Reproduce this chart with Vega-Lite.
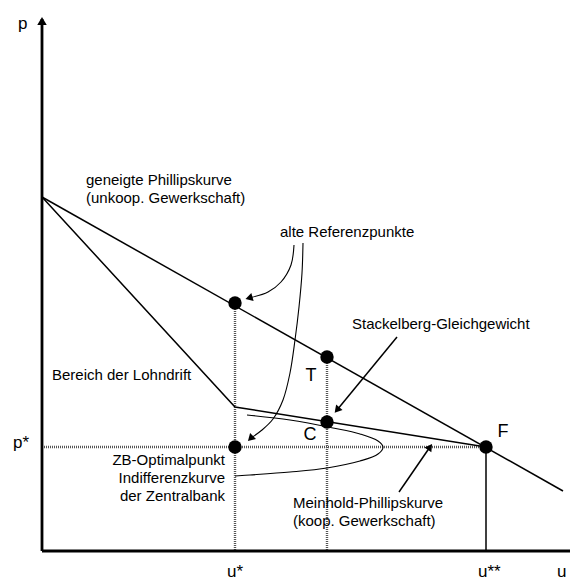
{
  "$schema": "https://vega.github.io/schema/vega-lite/v6.json",
  "width": 570,
  "height": 581,
  "padding": 0,
  "autosize": {"type": "none"},
  "background": "white",
  "config": {"view": {"stroke": null}, "text": {"font": "Liberation Sans"}},
  "datasets": {
    "solid": [
      {"id": "upper", "k": 1, "u": 0, "p": 35.4},
      {"id": "upper", "k": 2, "u": 52.1, "p": 6.0},
      {"id": "lower", "k": 1, "u": 0, "p": 35.4},
      {"id": "lower", "k": 2, "u": 19.3, "p": 14.4},
      {"id": "lower", "k": 3, "u": 44.4, "p": 10.4},
      {"id": "uss", "k": 1, "u": 44.4, "p": 10.4},
      {"id": "uss", "k": 2, "u": 44.4, "p": 0},
      {"id": "a3", "k": 1, "u": 35.5, "p": 21.4},
      {"id": "a3", "k": 2, "u": 29.5, "p": 14.1},
      {"id": "a4", "k": 1, "u": 35.7, "p": 5.9},
      {"id": "a4", "k": 2, "u": 38.8, "p": 10.4}
    ],
    "dotted": [
      {"id": "pstar", "k": 1, "u": 0, "p": 10.4},
      {"id": "pstar", "k": 2, "u": 44.4, "p": 10.4},
      {"id": "ustar", "k": 1, "u": 19.3, "p": 24.8},
      {"id": "ustar", "k": 2, "u": 19.3, "p": 0},
      {"id": "uT", "k": 1, "u": 28.5, "p": 19.4},
      {"id": "uT", "k": 2, "u": 28.5, "p": 0}
    ],
    "axes": [
      {"id": "yax", "k": 1, "u": 0, "p": 0},
      {"id": "yax", "k": 2, "u": 0, "p": 53.2},
      {"id": "xax", "k": 1, "u": 0, "p": 0},
      {"id": "xax", "k": 2, "u": 52.8, "p": 0}
    ],
    "curves": [
      {"id": "ind", "k": 1, "u": 20.5, "p": 13.6},
      {"id": "ind", "k": 2, "u": 24.8, "p": 13.1},
      {"id": "ind", "k": 3, "u": 29.1, "p": 12.3},
      {"id": "ind", "k": 4, "u": 31.8, "p": 11.7},
      {"id": "ind", "k": 5, "u": 33.6, "p": 11.0},
      {"id": "ind", "k": 6, "u": 34.1, "p": 10.4},
      {"id": "ind", "k": 7, "u": 33.6, "p": 9.7},
      {"id": "ind", "k": 8, "u": 31.8, "p": 9.0},
      {"id": "ind", "k": 9, "u": 28.5, "p": 8.3},
      {"id": "ind", "k": 10, "u": 24.8, "p": 7.9},
      {"id": "ind", "k": 11, "u": 20.8, "p": 7.6},
      {"id": "ind", "k": 12, "u": 19.3, "p": 7.5},
      {"id": "a1", "k": 1, "u": 25.2, "p": 30.6},
      {"id": "a1", "k": 2, "u": 24.9, "p": 28.6},
      {"id": "a1", "k": 3, "u": 23.9, "p": 26.9},
      {"id": "a1", "k": 4, "u": 22.6, "p": 25.9},
      {"id": "a1", "k": 5, "u": 20.9, "p": 25.35},
      {"id": "a2", "k": 1, "u": 26.1, "p": 30.8},
      {"id": "a2", "k": 2, "u": 26.0, "p": 27.8},
      {"id": "a2", "k": 3, "u": 25.7, "p": 24.4},
      {"id": "a2", "k": 4, "u": 25.3, "p": 21.1},
      {"id": "a2", "k": 5, "u": 24.8, "p": 17.8},
      {"id": "a2", "k": 6, "u": 24.1, "p": 15.1},
      {"id": "a2", "k": 7, "u": 23.1, "p": 13.2},
      {"id": "a2", "k": 8, "u": 22.0, "p": 12.1},
      {"id": "a2", "k": 9, "u": 20.9, "p": 11.3}
    ],
    "dots": [
      {"name": "A", "u": 19.3, "p": 24.8},
      {"name": "T", "u": 28.5, "p": 19.4},
      {"name": "C", "u": 28.5, "p": 12.9},
      {"name": "ZB", "u": 19.3, "p": 10.4},
      {"name": "F", "u": 44.4, "p": 10.4}
    ],
    "heads": [
      {"id": "yax", "u": 0, "p": 53.0},
      {"id": "a1", "u": 20.7, "p": 25.3},
      {"id": "a2", "u": 20.85, "p": 11.25},
      {"id": "a3", "u": 29.5, "p": 14.1},
      {"id": "a4", "u": 38.8, "p": 10.4}
    ],
    "notesLeft": [
      {"t": "geneigte Phillipskurve", "u": 4.4, "p": 36.6},
      {"t": "(unkoop. Gewerkschaft)", "u": 4.4, "p": 34.8},
      {"t": "alte Referenzpunkte", "u": 23.8, "p": 31.4},
      {"t": "Stackelberg-Gleichgewicht", "u": 31.0, "p": 22.2},
      {"t": "Bereich der Lohndrift", "u": 1.0, "p": 17.1},
      {"t": "Meinhold-Phillipskurve", "u": 25.1, "p": 4.3},
      {"t": "(koop. Gewerkschaft)", "u": 25.1, "p": 2.5}
    ],
    "notesRight": [
      {"t": "ZB-Optimalpunkt", "u": 18.3, "p": 8.6},
      {"t": "Indifferenzkurve", "u": 18.3, "p": 6.8},
      {"t": "der Zentralbank", "u": 18.3, "p": 5.0}
    ],
    "pointLabels": [
      {"t": "T", "u": 26.9, "p": 17.0},
      {"t": "C", "u": 26.8, "p": 11.1},
      {"t": "F", "u": 46.1, "p": 11.4}
    ],
    "axisLabels": [
      {"t": "p", "u": -2.4, "p": 52.2},
      {"t": "p*", "u": -2.9, "p": 10.3},
      {"t": "u*", "u": 18.5, "p": -2.6},
      {"t": "u**", "u": 43.6, "p": -2.6},
      {"t": "u", "u": 51.5, "p": -2.6}
    ]
  },
  "encoding": {
    "x": {"field": "u", "type": "quantitative", "scale": {"domain": [-4.2, 52.8], "nice": false, "zero": false}, "axis": null},
    "y": {"field": "p", "type": "quantitative", "scale": {"domain": [-3.0, 55.1], "nice": false, "zero": false}, "axis": null}
  },
  "layer": [
    {
      "data": {"name": "dotted"},
      "mark": {"type": "line", "color": "#555555", "strokeWidth": 2.4, "strokeDash": [1, 1]},
      "encoding": {"detail": {"field": "id"}, "order": {"field": "k"}}
    },
    {
      "data": {"name": "solid"},
      "mark": {"type": "line", "color": "black", "strokeWidth": 1.5},
      "encoding": {"detail": {"field": "id"}, "order": {"field": "k"}}
    },
    {
      "data": {"name": "curves"},
      "mark": {"type": "line", "color": "black", "strokeWidth": 1.1, "interpolate": "catmull-rom"},
      "encoding": {"detail": {"field": "id"}, "order": {"field": "k"}}
    },
    {
      "data": {"name": "axes"},
      "mark": {"type": "line", "color": "black", "strokeWidth": 2.8},
      "encoding": {"detail": {"field": "id"}, "order": {"field": "k"}}
    },
    {
      "data": {"name": "heads"},
      "transform": [{"filter": "datum.id == 'yax'"}],
      "mark": {"type": "point", "shape": "triangle-up", "filled": true, "color": "black", "opacity": 1, "size": 90, "angle": 0}
    },
    {
      "data": {"name": "heads"},
      "transform": [{"filter": "datum.id == 'a1'"}],
      "mark": {"type": "point", "shape": "triangle-up", "filled": true, "color": "black", "opacity": 1, "size": 70, "angle": 254}
    },
    {
      "data": {"name": "heads"},
      "transform": [{"filter": "datum.id == 'a2'"}],
      "mark": {"type": "point", "shape": "triangle-up", "filled": true, "color": "black", "opacity": 1, "size": 70, "angle": 225}
    },
    {
      "data": {"name": "heads"},
      "transform": [{"filter": "datum.id == 'a3'"}],
      "mark": {"type": "point", "shape": "triangle-up", "filled": true, "color": "black", "opacity": 1, "size": 70, "angle": 220}
    },
    {
      "data": {"name": "heads"},
      "transform": [{"filter": "datum.id == 'a4'"}],
      "mark": {"type": "point", "shape": "triangle-up", "filled": true, "color": "black", "opacity": 1, "size": 70, "angle": 35}
    },
    {
      "data": {"name": "dots"},
      "mark": {"type": "point", "shape": "circle", "filled": true, "color": "black", "opacity": 1, "size": 180}
    },
    {
      "data": {"name": "notesLeft"},
      "mark": {"type": "text", "align": "left", "baseline": "alphabetic", "fontSize": 15, "color": "black"},
      "encoding": {"text": {"field": "t"}}
    },
    {
      "data": {"name": "notesRight"},
      "mark": {"type": "text", "align": "right", "baseline": "alphabetic", "fontSize": 15, "color": "black"},
      "encoding": {"text": {"field": "t"}}
    },
    {
      "data": {"name": "pointLabels"},
      "mark": {"type": "text", "align": "center", "baseline": "alphabetic", "fontSize": 18, "color": "black"},
      "encoding": {"text": {"field": "t"}}
    },
    {
      "data": {"name": "axisLabels"},
      "mark": {"type": "text", "align": "left", "baseline": "alphabetic", "fontSize": 17, "color": "black"},
      "encoding": {"text": {"field": "t"}}
    }
  ]
}
